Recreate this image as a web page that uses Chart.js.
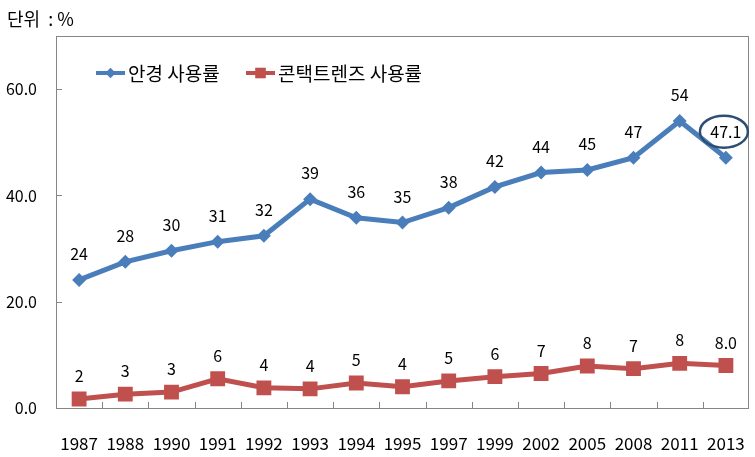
<!DOCTYPE html>
<html>
<head>
<meta charset="utf-8">
<script src="https://cdn.jsdelivr.net/npm/chart.js@4.4.0/dist/chart.umd.min.js"></script>
<style>
  html, body { margin: 0; padding: 0; background: #fff; }
  #wrap { width: 755px; height: 457px; }
</style>
</head>
<body>
<div id="wrap"><canvas id="chart"></canvas></div>
<script>
// data
var years = ["1987","1988","1990","1991","1992","1993","1994","1995","1997","1999","2002","2005","2008","2011","2013"];
var glassesRate = [24.1, 27.5, 29.6, 31.3, 32.4, 39.3, 35.8, 34.9, 37.7, 41.6, 44.3, 44.8, 47.1, 54.0, 47.1];
var lensRate = [1.7, 2.6, 3.0, 5.5, 3.8, 3.6, 4.7, 4.0, 5.1, 5.9, 6.5, 7.9, 7.4, 8.4, 8.0];
var glassesLabels = ["24","28","30","31","32","39","36","35","38","42","44","45","47","54","47.1"];
var lensLabels = ["2","3","3","6","4","4","5","4","5","6","7","8","7","8","8.0"];
var yTicks = [0, 20, 40, 60];

var FONT = "'Noto Sans CJK KR', 'Noto Sans', sans-serif";
var BLUE = '#4a7ebb';
var RED = '#c0504d';

// draws frame, inner tick marks, value labels, legend and unit text
var decorations = {
  id: 'decorations',
  afterDatasetsDraw: function(chart) {
    var ctx = chart.ctx;
    var a = chart.chartArea;
    var xs = chart.scales.x, ys = chart.scales.y;
    ctx.save();

    // frame
    ctx.strokeStyle = '#868686';
    ctx.lineWidth = 1;
    ctx.strokeRect(a.left + 0.5, a.top + 0.5, a.right - a.left - 1, a.bottom - a.top);

    // tick marks pointing inwards
    ctx.beginPath();
    var half = (xs.getPixelForValue(1) - xs.getPixelForValue(0)) / 2;
    for (var i = 1; i < years.length; i++) {
      var tx = Math.round(xs.getPixelForValue(i) - half) + 0.5;
      ctx.moveTo(tx, a.bottom);
      ctx.lineTo(tx, a.bottom - 6);
    }
    yTicks.forEach(function(v) {
      if (v === 0) return;
      var ty = Math.round(ys.getPixelForValue(v)) + 0.5;
      ctx.moveTo(a.left, ty);
      ctx.lineTo(a.left + 6, ty);
    });
    ctx.stroke();

    // value labels
    ctx.fillStyle = '#000';
    ctx.font = '16px ' + FONT;
    ctx.textAlign = 'center';
    ctx.textBaseline = 'middle';
    var sets = [[0, glassesLabels, 26], [1, lensLabels, 23]];
    sets.forEach(function(s) {
      var meta = chart.getDatasetMeta(s[0]);
      meta.data.forEach(function(pt, j) {
        ctx.fillText(s[1][j], pt.x, pt.y - s[2]);
      });
    });

    // circle around the last value
    var last = chart.getDatasetMeta(0).data[years.length - 1];
    ctx.strokeStyle = '#2d4d74';
    ctx.lineWidth = 2.5;
    ctx.beginPath();
    ctx.ellipse(last.x - 2, last.y - 26, 24, 16, 0, 0, Math.PI * 2);
    ctx.stroke();

    // legend
    ctx.font = '19px ' + FONT;
    ctx.textAlign = 'left';
    var items = [[96, BLUE, 'rectRot', 7, '안경 사용률'], [246, RED, 'rect', 10, '콘택트렌즈 사용률']];
    items.forEach(function(it) {
      var ly = 73;
      ctx.strokeStyle = it[1];
      ctx.lineWidth = 4;
      ctx.beginPath();
      ctx.moveTo(it[0], ly);
      ctx.lineTo(it[0] + 29, ly);
      ctx.stroke();
      ctx.fillStyle = it[1];
      Chart.helpers.drawPoint(ctx, { pointStyle: it[2], radius: it[3] * 0.75, borderWidth: 0 }, it[0] + 14.5, ly);
      ctx.fillStyle = '#000';
      ctx.fillText(it[4], it[0] + 32, ly + 1);
    });

    // unit
    ctx.font = '18px ' + FONT;
    ctx.fillText('단위  : %', 7, 19);
    ctx.restore();
  }
};

new Chart(document.getElementById('chart').getContext('2d'), {
  type: 'line',
  data: {
    labels: years,
    datasets: [
      {
        label: '안경 사용률',
        data: glassesRate,
        borderColor: BLUE,
        backgroundColor: BLUE,
        borderWidth: 5,
        pointStyle: 'rectRot',
        pointRadius: 7,
        pointBorderWidth: 0,
        tension: 0
      },
      {
        label: '콘택트렌즈 사용률',
        data: lensRate,
        borderColor: RED,
        backgroundColor: RED,
        borderWidth: 5,
        pointStyle: 'rect',
        pointRadius: 10.5,
        pointBorderWidth: 0,
        tension: 0
      }
    ]
  },
  options: {
    responsive: true,
    maintainAspectRatio: false,
    animation: false,
    layout: { autoPadding: false, padding: { top: 36, right: 6, left: 0, bottom: 0 } },
    plugins: {
      legend: { display: false },
      tooltip: { enabled: false }
    },
    scales: {
      x: {
        offset: true,
        grid: { display: false, drawTicks: false },
        border: { display: false },
        ticks: { color: '#000', font: { family: FONT, size: 17 }, padding: 25, maxRotation: 0, autoSkip: false },
        afterFit: function(s) { s.height = 49; s.paddingLeft = 0; s.paddingRight = 0; }
      },
      y: {
        min: 0,
        max: 70,
        grid: { display: false, drawTicks: false },
        border: { display: false },
        ticks: {
          stepSize: 20,
          color: '#000',
          padding: 19,
          font: { family: FONT, size: 16 },
          callback: function(v) { return yTicks.indexOf(v) >= 0 ? v.toFixed(1) : ''; }
        },
        afterFit: function(s) { s.width = 56; s.paddingTop = 0; s.paddingBottom = 0; }
      }
    }
  },
  plugins: [decorations]
});
</script>
</body>
</html>
